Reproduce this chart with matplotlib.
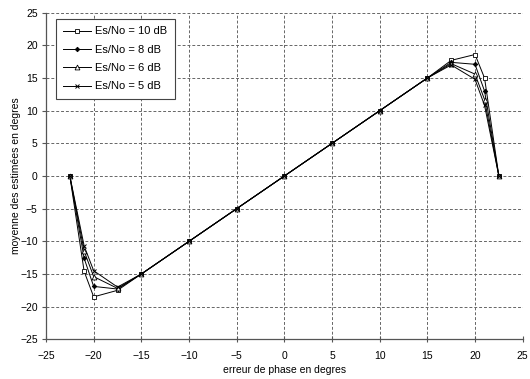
import matplotlib
matplotlib.use("Agg")
import matplotlib.pyplot as plt

plt.rcParams['font.family'] = ['Liberation Sans', 'DejaVu Sans']

# erreur de phase (degres)
phase = [-22.5, -21, -20, -17.5, -15, -10, -5, 0, 5, 10, 15, 17.5, 20, 21, 22.5]

# moyenne des estimees pour chaque Es/No
snr10 = [0, -14.6, -18.5, -17.5, -15, -10, -5, 0, 5, 10, 15, 17.7, 18.6, 15.0, 0]
snr8 = [0, -12.6, -16.9, -17.3, -15, -10, -5, 0, 5, 10, 15, 17.4, 17.1, 13.0, 0]
snr6 = [0, -11.5, -15.4, -17.2, -15, -10, -5, 0, 5, 10, 15, 17.2, 15.6, 11.7, 0]
snr5 = [0, -10.7, -14.5, -17.0, -15, -10, -5, 0, 5, 10, 15, 17.0, 14.8, 10.8, 0]

labels = ["Es/No = 10 dB", "Es/No = 8 dB", "Es/No = 6 dB", "Es/No = 5 dB"]
ticks = [-25, -20, -15, -10, -5, 0, 5, 10, 15, 20, 25]

fig = plt.figure(figsize=(5.3, 3.79), dpi=100)
ax = fig.add_axes([0.0868, 0.1047, 0.8994, 0.8618])

ax.plot(phase, snr10, color='black', lw=0.7, marker='s', ms=3.5, mfc='white', mew=0.6, label=labels[0])
ax.plot(phase, snr8, color='black', lw=0.7, marker='D', ms=2.3, mfc='black', mew=0.6, label=labels[1])
ax.plot(phase, snr6, color='black', lw=0.7, marker='^', ms=3.5, mfc='white', mew=0.6, label=labels[2])
ax.plot(phase, snr5, color='black', lw=0.7, marker='x', ms=3.5, mew=0.7, label=labels[3])

ax.set_xlim(-25, 25)
ax.set_ylim(-25, 25)
ax.set_xticks(ticks)
ax.set_yticks(ticks)
ax.grid(True, color='#666666', linestyle=(0, (3, 2)), linewidth=0.7)
ax.set_axisbelow(True)

for side in ['top', 'right']:
    ax.spines[side].set_visible(False)
for side in ['left', 'bottom']:
    ax.spines[side].set_color('#555555')
    ax.spines[side].set_linewidth(0.9)

ax.tick_params(axis='both', labelsize=7.5, length=3, width=0.8, color='#555555', pad=3)
ax.tick_params(axis='x', direction='inout', length=5, pad=6)

ax.set_xlabel("erreur de phase en degres", fontsize=7.5, labelpad=3)
ax.set_ylabel("moyenne des estimées en degres", fontsize=7.5)
ax.yaxis.set_label_coords(-0.053, 0.5)

leg = ax.legend(loc='upper left', bbox_to_anchor=(0.021, 0.98), borderaxespad=0,
                fontsize=8, fancybox=False, framealpha=1, edgecolor='#444444',
                handlelength=2.5, labelspacing=0.75, borderpad=0.65, handletextpad=0.4)
leg.get_frame().set_linewidth(0.8)

fig.savefig("out.png", dpi=100)
